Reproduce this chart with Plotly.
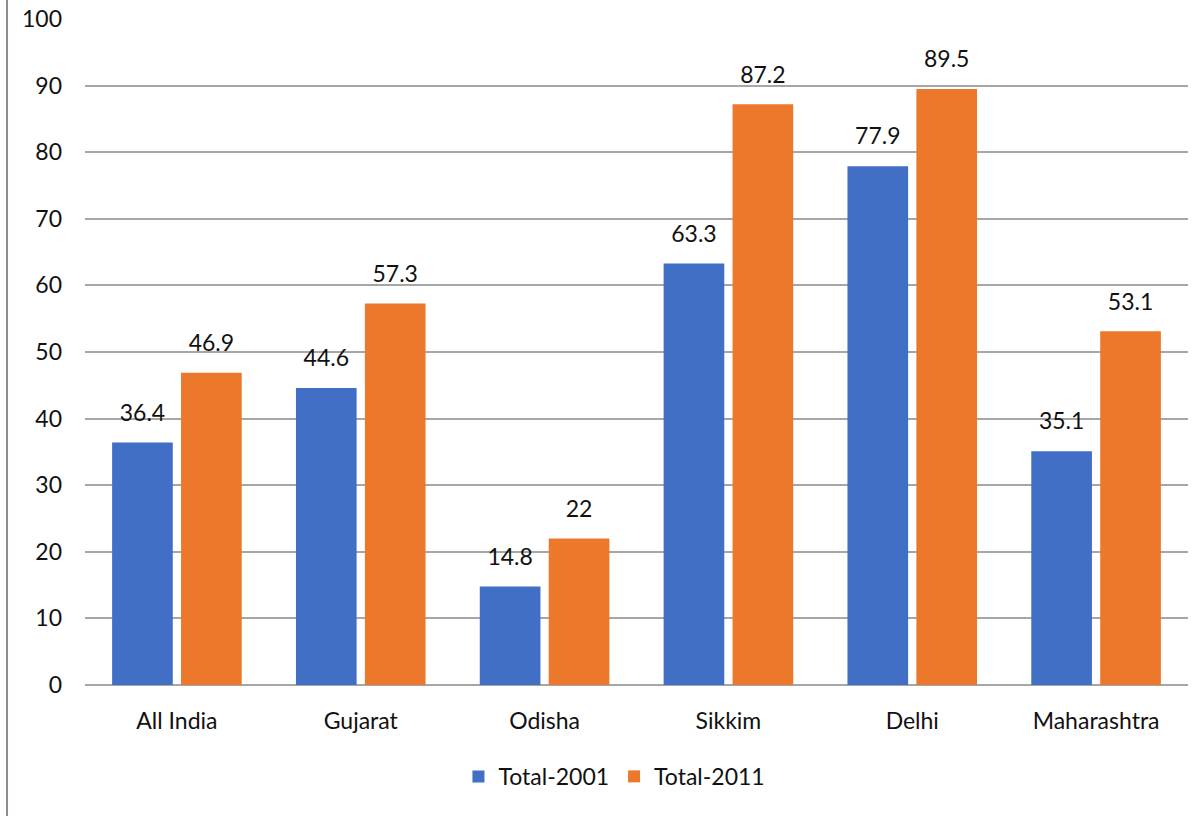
import plotly.graph_objects as go

categories = ["All India", "Gujarat", "Odisha", "Sikkim", "Delhi", "Maharashtra"]
total_2001 = [36.4, 44.6, 14.8, 63.3, 77.9, 35.1]
total_2011 = [46.9, 57.3, 22, 87.2, 89.5, 53.1]
y_ticks = list(range(0, 101, 10))

font_family = "Lato, 'Open Sans', sans-serif"
blue = "#416FC6"
orange = "#EC782B"

fig = go.Figure()
for name, vals, col in [("Total-2001", total_2001, blue), ("Total-2011", total_2011, orange)]:
    fig.add_trace(go.Bar(
        x=categories, y=vals, name=name,
        marker=dict(color=col, line=dict(width=0)),
        hoverinfo="x+y",
    ))
for name, vals in [("Total-2001", total_2001), ("Total-2011", total_2011)]:
    fig.add_trace(go.Scatter(
        x=categories, y=vals, name=name + " labels", mode="markers+text",
        marker=dict(size=24, color="rgba(0,0,0,0)"),
        text=[f"{v:g}" for v in vals], textposition="top center",
        textfont=dict(size=23, color="#111111", family=font_family),
        showlegend=False, cliponaxis=False, hoverinfo="skip",
    ))

fig.update_layout(
    width=1204, height=816,
    margin=dict(l=85, r=16, t=19, b=131, autoexpand=False),
    paper_bgcolor="white", plot_bgcolor="white",
    barmode="group", bargap=0.25, bargroupgap=0.12,
    scattermode="group", scattergap=0.25,
    font=dict(family=font_family, size=23, color="#111111"),
    showlegend=True,
    legend=dict(orientation="h", x=0.48, xanchor="center", y=-0.105, yanchor="top",
                font=dict(size=23), itemwidth=30, traceorder="normal"),
    xaxis=dict(showgrid=False, showline=False, ticks="", tickfont=dict(size=23),
               ticklabelstandoff=20, automargin=False),
    yaxis=dict(range=[0, 100], tickvals=y_ticks, showgrid=True, gridcolor="#A6A6A6",
               gridwidth=2, zeroline=True, zerolinecolor="#A6A6A6", zerolinewidth=2,
               showline=False, ticks="", tickfont=dict(size=23), ticklabelstandoff=22,
               automargin=False),
    shapes=[dict(type="line", xref="paper", yref="paper", x0=-0.0707, x1=-0.0707,
                 y0=-0.2, y1=1.03, line=dict(color="#8C8C8C", width=2))],
)

fig.write_html("out.html")
